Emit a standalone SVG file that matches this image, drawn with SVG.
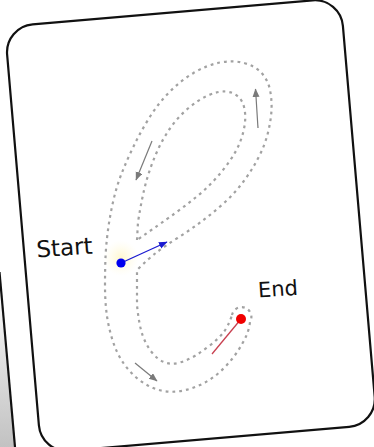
<svg xmlns="http://www.w3.org/2000/svg" width="374" height="447" viewBox="0 0 374 447">
<style>
.edge{stroke:#111;stroke-width:2.2;fill:none}
.dash{fill:none;stroke:#a2a2a2;stroke-width:2.2;stroke-dasharray:2.8 4}
.garrow{stroke:#7a7a7a;stroke-width:1.2;fill:none}
.lbl{font-family:"DejaVu Sans",sans-serif;fill:#111}
</style>
<defs>
<marker id="ag" markerUnits="userSpaceOnUse" markerWidth="10" markerHeight="8" refX="8" refY="3.5" orient="auto"><path d="M0,0 L8.5,3.5 L0,7 z" fill="#7a7a7a"/></marker>
<marker id="ab" markerUnits="userSpaceOnUse" markerWidth="10" markerHeight="8" refX="8" refY="3.5" orient="auto"><path d="M0,0 L8.5,3.5 L0,7 z" fill="#1a1ad0"/></marker>
<linearGradient id="shade" x1="0" y1="290" x2="0" y2="447" gradientUnits="userSpaceOnUse"><stop offset="0" stop-color="#ffffff"/><stop offset="0.4" stop-color="#e2e2e2"/><stop offset="1" stop-color="#c2c2c2"/></linearGradient>
<radialGradient id="glow"><stop offset="0" stop-color="#fff6c8" stop-opacity="0.9"/><stop offset="1" stop-color="#fffbe6" stop-opacity="0"/></radialGradient>
</defs>
<rect width="374" height="447" fill="#fff"/>
<g id="back-card">
<polygon points="0,279 15,447 0,447" fill="url(#shade)"/>
<path d="M-0.5,272 L15,447" class="edge"/>
</g>
<g id="card">
<rect x="-168.5" y="-214" width="337" height="428" rx="28" transform="translate(190.9,225.6) rotate(-4.9)" fill="#fff" class="edge"/>
</g>
<g id="letter-e">
<circle cx="121" cy="258" r="18" fill="url(#glow)"/>
<path class="dash" d="M232,315 A9.8,9.8 0 1 1 250,322 Q249,330 246,336.5 Q243,343 237.5,351.5 Q232,360 223.5,368.5 Q215,377 205,382.5 Q195,388 183.5,390.5 Q172,393 161,390.5 Q150,388 140,380.5 Q130,373 123,362.5 Q116,352 112,338.5 Q108,325 106.5,312.5 Q105,300 105,285 Q105,270 105.5,257.5 Q106,245 108,230 Q110,215 113.5,200 Q117,185 122,172.5 Q127,160 133.5,146.5 Q140,133 148.5,119 Q157,105 168.5,93 Q180,81 193.5,73 Q207,65 220,62.5 Q233,60 244,63 Q255,66 261.5,73 Q268,80 270,90 Q272,100 271.5,110 Q271,120 268,132.5 Q265,145 258.5,157.5 Q252,170 243.5,181.5 Q235,193 224,203 Q213,213 201.5,221.5 Q190,230 177.5,238 Q165,246 156.5,252.5 Q148,259 137,270 L137,305 Q139,325 142.5,335 Q146,345 152,352.5 Q158,360 165,362.5 Q172,365 180,362.5 Q188,360 195.5,355.5 Q203,351 210.5,345 Q218,339 223,333 Q228,327 232,315 Z"/>
<path class="dash" d="M137,240 L138,222 Q142,197 146,182.5 Q150,168 156,154 Q162,140 170,128.5 Q178,117 188,108.5 Q198,100 208,95.5 Q218,91 225.5,91.5 Q233,92 238,96.5 Q243,101 244.5,109 Q246,117 244.5,126 Q243,135 239.5,143.5 Q236,152 229,162 Q222,172 213.5,181 Q205,190 195,198 Q185,206 174,214 Q160,224 137,240 Z"/>
</g>
<g id="connectors">
<path class="garrow" d="M258,128 L255.5,89" marker-end="url(#ag)"/>
<path class="garrow" d="M152,141 L136,180" marker-end="url(#ag)"/>
<path class="garrow" d="M135,363 L157,381" marker-end="url(#ag)"/>
<path d="M121,263 L167,242" stroke="#1a1ad0" stroke-width="1.3" fill="none" marker-end="url(#ab)"/>
<path d="M241,319 L212,354" stroke="#c84050" stroke-width="1.3" fill="none"/>
</g>
<g id="start">
<circle cx="121" cy="263" r="4.6" fill="#0000f0"/>
<text class="lbl" x="37" y="257.5" font-size="23" transform="rotate(-4 37 257.5)">Start</text>
</g>
<g id="end">
<circle cx="241" cy="319" r="5" fill="#f00000"/>
<text class="lbl" x="258.5" y="297.5" font-size="21" transform="rotate(-4 258.5 297.5)">End</text>
</g>
</svg>
